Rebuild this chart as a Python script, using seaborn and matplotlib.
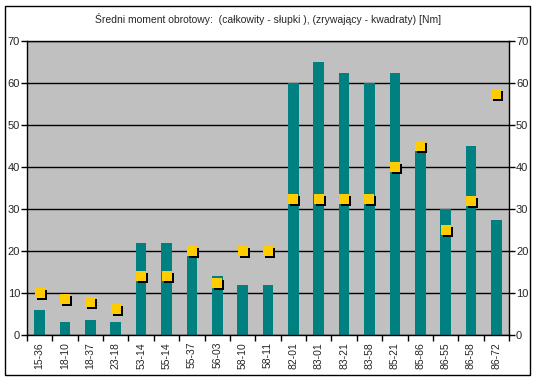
import numpy as np
import pandas as pd
import matplotlib
matplotlib.use('Agg')
import matplotlib.pyplot as plt
import matplotlib.transforms as mtransforms
from matplotlib.patches import Rectangle
from matplotlib.ticker import FixedLocator
import seaborn as sns

# Data
labels = ['15-36', '18-10', '18-37', '23-18', '53-14', '55-14', '55-37', '56-03', '58-10', '58-11',
          '82-01', '83-01', '83-21', '83-58', '85-21', '85-86', '86-55', '86-58', '86-72']
total = [6, 3, 3.5, 3, 22, 22, 21, 14, 12, 12, 60, 65, 62.5, 60, 62.5, 45, 30, 45, 27.5]
breaking = [10, 8.5, 7.8, 6.3, 14, 14, 20, 12.3, 20, 20, 32.3, 32.3, 32.3, 32.3, 40, 45, 25, 32, 57.5]
title = 'Średni moment obrotowy:  (całkowity - słupki ), (zrywający - kwadraty) [Nm]'

df = pd.DataFrame({'label': labels, 'total': total, 'breaking': breaking})

sns.set_style('white')
plt.rcParams['font.family'] = ['Liberation Sans', 'DejaVu Sans']

fig = plt.figure(figsize=(5.37, 3.82), dpi=100)
ax = fig.add_axes([27 / 537, 47 / 382, 482 / 537, 294 / 382])
ax.set_facecolor('#C0C0C0')

sns.barplot(data=df, x='label', y='total', color='#008080', saturation=1, width=0.42,
            linewidth=0, edgecolor='none', ax=ax)

# squares with a black drop shadow
pos = np.arange(len(labels))
shadow = mtransforms.offset_copy(ax.transData, fig=fig, x=2, y=-2, units='dots')
ax.plot(pos, df['breaking'], 's', color='black', markersize=7, markeredgewidth=0,
        transform=shadow, zorder=3)
ax.plot(pos, df['breaking'], 's', color='#FFCC00', markersize=7, markeredgewidth=0, zorder=4)

ax.set_xlim(-0.5, len(labels) - 0.5)
ax.set_ylim(0, 70)
ax.set_yticks(range(0, 71, 10))
ax.yaxis.grid(True, color='black', linewidth=1)
ax.set_axisbelow(True)
for s in ax.spines.values():
    s.set_color('black')
    s.set_linewidth(1)

ax.set_xlabel('')
ax.set_ylabel('')
ax.tick_params(axis='y', left=True, right=True, labelleft=True, labelright=True,
               direction='out', length=4, width=1, color='black', labelsize=8, pad=1)
ax.set_xticks(pos)
ax.set_xticklabels(labels, rotation=90, fontsize=7.5)
ax.tick_params(axis='x', which='major', length=0, pad=5)
ax.xaxis.set_minor_locator(FixedLocator(np.arange(-0.5, len(labels), 1)))
ax.tick_params(axis='x', which='minor', bottom=True, direction='out', length=4, width=1, color='black')

fig.text(0.5, 1 - 19 / 382, title, ha='center', va='center', fontsize=7.5)
fig.patches.append(Rectangle((5 / 537, 7 / 382), 525 / 537, 369 / 382, transform=fig.transFigure,
                             fill=False, edgecolor='black', linewidth=1))

fig.savefig('out.png', dpi=100)
